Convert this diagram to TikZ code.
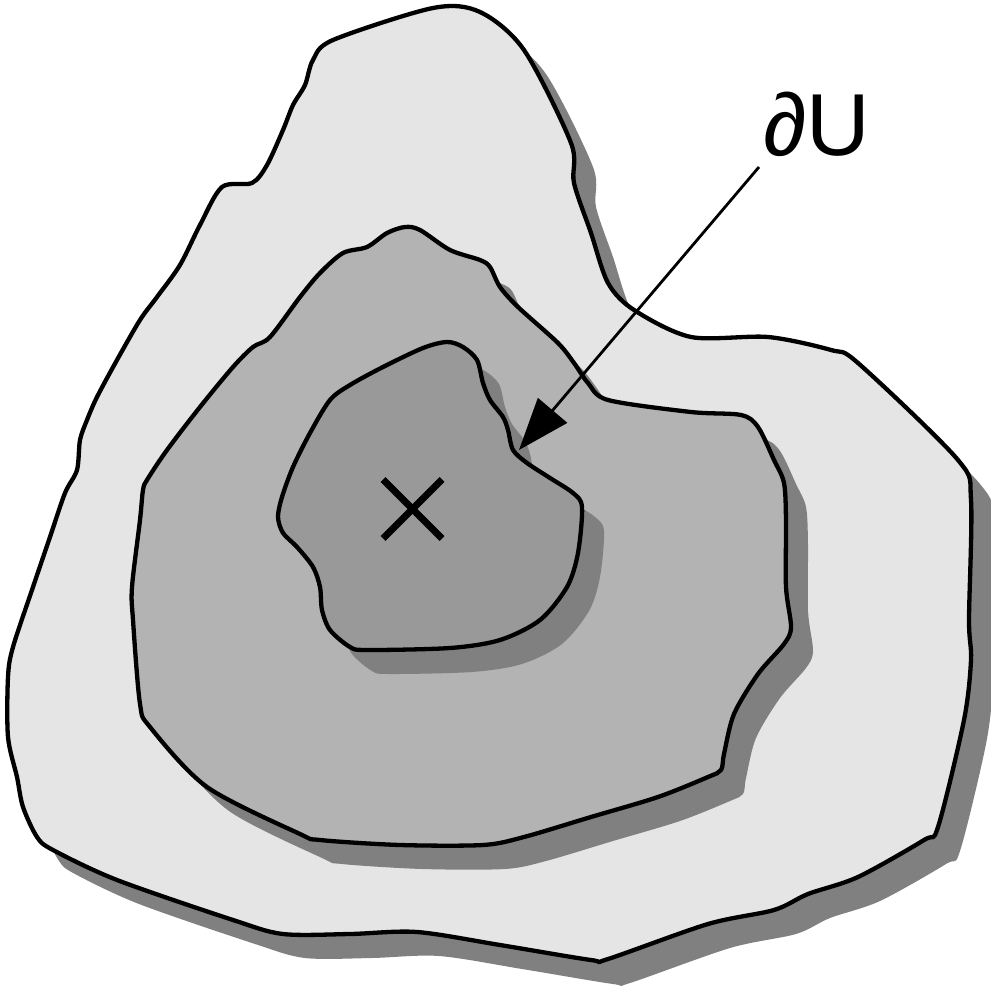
\documentclass[tikz,border=0pt]{standalone}
\usepackage{fontspec}
\setmainfont{Liberation Sans}
\usetikzlibrary{arrows.meta}

\definecolor{shadowgray}{RGB}{128,128,128}
\definecolor{outergray}{RGB}{229,229,229}
\definecolor{middlegray}{RGB}{179,179,179}
\definecolor{innergray}{RGB}{153,153,153}

%% 三块区域的轮廓（像素坐标，y 向下）
\newcommand\outerblob{plot[smooth cycle,tension=0.5] coordinates {
  (480,12) (524,50) (571,143) (574,183) (591,233) (608,283) (634,310)
  (691,337) (768,337) (831,350) (858,363) (958,460) (971,500) (969,620)
  (971,660) (964,720) (938,827) (924,840) (858,877) (808,894) (774,910)
  (708,924) (608,959) (591,960) (500,945) (417,932) (350,934) (283,934)
  (233,920) (117,880) (53,850) (37,837) (23,807) (17,777) (8,737) (8,677)
  (13,647) (33,587) (50,537) (65,493) (77,470) (80,440) (87,420) (97,397)
  (117,360) (140,320) (157,297) (180,265) (200,225) (222,187) (252,183)
  (267,165) (283,130) (293,105) (305,85) (313,60) (333,40) (433,8)}}
\newcommand\middleblob{plot[smooth cycle,tension=0.5] coordinates {
  (405,227) (420,230) (450,250) (480,260) (490,267) (500,287) (518,307)
  (558,343) (574,363) (588,383) (608,400) (691,412) (741,415) (758,427)
  (774,460) (784,483) (786,520) (786,587) (791,627) (784,644) (758,674)
  (734,714) (724,754) (721,770) (708,777) (658,797) (591,817) (524,837)
  (483,845) (400,845) (320,840) (300,834) (207,787) (150,727) (140,704)
  (133,620) (132,587) (140,520) (143,490) (147,480) (167,450) (200,407)
  (233,367) (253,347) (270,337) (300,297) (320,273) (343,253) (367,247)
  (387,233)}}
\newcommand\innerblob{plot[smooth cycle,tension=0.5] coordinates {
  (447,342) (463,347) (477,360) (483,383) (490,400) (503,417) (508,430)
  (513,450) (527,463) (550,478) (573,493) (582,507) (578,553) (567,587)
  (540,620) (500,640) (450,648) (367,650) (350,647) (330,630) (322,610)
  (320,587) (313,567) (297,547) (283,533) (278,517) (282,497) (293,467)
  (310,433) (330,400) (350,385) (383,367) (423,348)}}

\begin{document}
\begin{tikzpicture}[x=1pt, y=-1pt, line join=round,
    blob/.style={draw=black, line width=4.3pt},
    dropshadow/.style={fill=shadowgray, shift={(22,24)}}]

  %% ════ 外层 ════
  \fill[dropshadow] \outerblob;
  \filldraw[blob, fill=outergray] \outerblob;

  %% ════ 中层 ════
  \fill[dropshadow] \middleblob;
  \filldraw[blob, fill=middlegray] \middleblob;

  %% ════ 内层 U ════
  \fill[dropshadow] \innerblob;
  \filldraw[blob, fill=innergray] \innerblob;

  %% ════ 中心的叉 ════
  \coordinate (mark) at (412.5,509);
  \draw[line width=6.8pt, line cap=butt] ([shift={(-29.5,-29.5)}]mark) -- ([shift={(29.5,29.5)}]mark);
  \draw[line width=6.8pt, line cap=butt] ([shift={(29.5,-29.5)}]mark) -- ([shift={(-29.5,29.5)}]mark);

  %% ════ 标签与箭头 ════
  \node[anchor=center, inner sep=0pt, font=\fontsize{88}{100}\selectfont] (lbl) at (817,124) {∂U};
  \coordinate (tail) at (759,167);
  \coordinate (tip) at (519,450);
  \draw[line width=2.8pt, -{Triangle[length=52pt,width=38pt]}] (tail) -- (tip);

  % 钉死画布
  \pgfresetboundingbox
  \path[use as bounding box] (0,0) rectangle (991,987);
\end{tikzpicture}
\end{document}
